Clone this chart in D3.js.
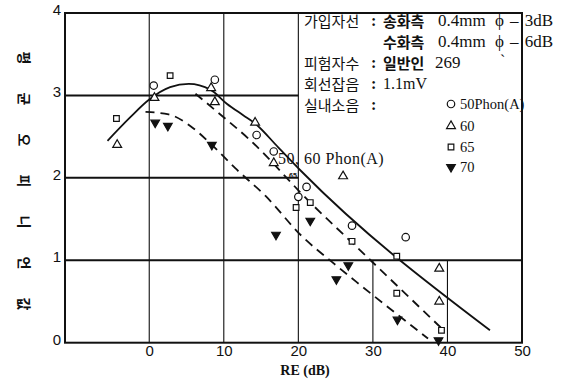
<!DOCTYPE html>
<html>
<head>
<meta charset="utf-8">
<script src="https://cdn.jsdelivr.net/npm/d3@7"></script>
<style>
  body { margin: 0; background: #fff; }
  text { fill: #111; }
</style>
</head>
<body>
<svg id="chart" width="585" height="385"></svg>
<script>
// values
const xTicks = [0, 10, 20, 30, 40, 50];
const yTicks = [0, 1, 2, 3, 4];
const yTitle = '평균오피니언값';
const xTitle = 'RE (dB)';

// measured points, [RE, opinion score]
const phon50 = [[0.6, 3.12], [8.8, 3.19], [14.4, 2.52], [16.7, 2.32], [20.0, 1.77], [21.1, 1.89], [27.2, 1.42], [34.4, 1.28]];
const phon60 = [[-4.3, 2.40], [0.7, 2.97], [8.3, 3.09], [8.8, 2.92], [14.2, 2.67], [16.7, 2.18], [26.0, 2.02], [38.9, 0.90], [38.9, 0.50]];
const phon65 = [[-4.4, 2.72], [2.8, 3.24], [19.7, 1.64], [21.6, 1.70], [27.2, 1.23], [33.2, 1.05], [33.2, 0.60], [39.2, 0.15]];
const phon70 = [[0.8, 2.67], [2.5, 2.63], [8.4, 2.40], [17.0, 1.31], [21.6, 1.48], [25.1, 0.77], [26.7, 0.94], [33.3, 0.28], [38.8, 0.03]];

// fitted curves drawn on the figure
const fit5060 = [[-5.6, 2.45], [-2.5, 2.74], [0, 2.95], [2.8, 3.10], [5.3, 3.14], [8.2, 3.07], [10.4, 2.90], [12.6, 2.76], [14.2, 2.66], [17.3, 2.37], [20.4, 2.08], [45.7, 0.15]];
const fit65 = [[6.2, 3.02], [9.0, 2.81], [13.5, 2.46], [21.6, 1.70], [28.3, 1.12], [39.5, 0.15]];
const fit70 = [[-0.5, 2.80], [2.6, 2.77], [5.5, 2.63], [8.4, 2.40], [11.5, 2.12], [15.6, 1.78], [20.5, 1.29], [24.5, 0.98], [28.3, 0.70], [37.4, 0.05]];

// condition box text
const legendLabels = ['가입자선', '', '피험자수', '회선잡음', '실내소음'];
const legendSides = ['송화측', '수화측', '일반인', '1.1mV', ''];
const legendValues = ['0.4mm', '0.4mm', '269', '', ''];
const legendLoss = ['– 3dB', '– 6dB', '', '', ''];
const noiseNames = ['50Phon(A)', '60', '65', '70'];

const svg = d3.select('#chart');
const ink = '#111';

const x = d3.scaleLinear().domain([-11.3, 50]).range([65, 522]);
const y = d3.scaleLinear().domain([0, 4]).range([342.7, 13]);

// grid lines: full height at 0,10,20 ; 30,40 only below y=1 (box sits above)
const grid = svg.append('g').attr('stroke', ink);
grid.selectAll('line.vg')
  .data(xTicks.filter(d => d < 50))
  .join('line')
  .attr('x1', d => x(d)).attr('x2', d => x(d))
  .attr('y1', d => d <= 20 ? y(4) : y(1))
  .attr('y2', y(0))
  .attr('stroke-width', 1.1);

grid.selectAll('line.hg')
  .data(yTicks.filter(d => d > 0 && d < 4))
  .join('line')
  .attr('x1', x.range()[0])
  .attr('x2', d => d === 1 ? x(50) : x(20))
  .attr('y1', d => y(d)).attr('y2', d => y(d))
  .attr('stroke-width', 2);

// frame
svg.append('rect')
  .attr('x', x.range()[0]).attr('y', y(4))
  .attr('width', x(50) - x.range()[0]).attr('height', y(0) - y(4))
  .attr('fill', 'none').attr('stroke', ink).attr('stroke-width', 2);

// axes (labels only)
const xAxis = svg.append('g')
  .attr('transform', `translate(0,${y(0)})`)
  .call(d3.axisBottom(x).tickValues(xTicks).tickFormat(d3.format('d')).tickSize(0).tickPadding(3));
const yAxis = svg.append('g')
  .attr('transform', `translate(${x.range()[0]},0)`)
  .call(d3.axisLeft(y).tickValues(yTicks).tickFormat(d3.format('d')).tickSize(0).tickPadding(4));
[xAxis, yAxis].forEach(a => {
  a.select('.domain').remove();
  a.selectAll('text')
    .style('font-family', '"Liberation Sans", Arial, sans-serif')
    .style('font-size', '15px')
    .attr('fill', ink);
});
yAxis.selectAll('text').attr('dy', '0.1em');

// axis titles
svg.append('text')
  .attr('x', 305).attr('y', 375)
  .attr('text-anchor', 'middle')
  .style('font-family', '"Liberation Serif", serif')
  .style('font-size', '14px')
  .style('font-weight', 'bold')
  .text(xTitle);

svg.append('g')
  .selectAll('text')
  .data(Array.from(yTitle))
  .join('text')
  .attr('transform', (d, i) => `translate(24,${58 + i * 41}) rotate(90)`)
  .attr('text-anchor', 'middle')
  .attr('dy', '0.35em')
  .style('font-family', '"Noto Sans CJK KR", sans-serif')
  .style('font-size', '14px')
  .style('font-weight', 'bold')
  .text(d => d);

// fitted curves
const line = d3.line().x(d => x(d[0])).y(d => y(d[1])).curve(d3.curveMonotoneX);
svg.append('path').attr('d', line(fit5060))
  .attr('fill', 'none').attr('stroke', ink).attr('stroke-width', 1.8);
svg.append('path').attr('d', line(fit65))
  .attr('fill', 'none').attr('stroke', ink).attr('stroke-width', 1.8)
  .attr('stroke-dasharray', '9,6');
svg.append('path').attr('d', line(fit70))
  .attr('fill', 'none').attr('stroke', ink).attr('stroke-width', 1.8)
  .attr('stroke-dasharray', '9,6');

// markers
const shapes = [
  { data: phon50, type: d3.symbolCircle, size: 44, fill: '#fff', rot: 0 },
  { data: phon60, type: d3.symbolTriangle, size: 34, fill: '#fff', rot: 0 },
  { data: phon65, type: d3.symbolSquare, size: 32, fill: '#fff', rot: 0 },
  { data: phon70, type: d3.symbolTriangle, size: 32, fill: ink, rot: 180 }
];
shapes.forEach(s => {
  svg.append('g').selectAll('path')
    .data(s.data)
    .join('path')
    .attr('d', d3.symbol(s.type, s.size))
    .attr('transform', d => `translate(${x(d[0])},${y(d[1])}) rotate(${s.rot})`)
    .attr('fill', s.fill)
    .attr('stroke', ink)
    .attr('stroke-width', 1.2);
});

// curve labels
svg.append('text')
  .attr('x', 278).attr('y', 164)
  .style('font-family', '"Liberation Serif", serif')
  .style('font-size', '16px')
  .style('letter-spacing', '0.5px')
  .text('50, 60 Phon(A)');
svg.append('text')
  .attr('x', 289).attr('y', 178)
  .style('font-family', '"Liberation Sans", sans-serif')
  .style('font-size', '7px')
  .style('font-weight', 'bold')
  .text('65');

// condition box text
const rowY = [20, 41, 62, 83, 104, 126, 147, 167];
const box = svg.append('g')
  .style('font-size', '16px')
  .attr('dominant-baseline', 'central');
const kr = '"Noto Sans CJK KR", sans-serif';
const serif = '"Liberation Serif", "Noto Sans CJK KR", serif';

box.selectAll('text.lab')
  .data(legendLabels)
  .join('text')
  .attr('x', 304).attr('y', (d, i) => rowY[i])
  .style('font-family', kr)
  .style('font-size', '15px')
  .text(d => d);
box.selectAll('text.colon')
  .data(legendLabels.map(d => d ? ':' : ''))
  .join('text')
  .attr('x', 371).attr('y', (d, i) => rowY[i])
  .style('font-family', serif)
  .style('font-weight', 'bold')
  .text(d => d);
box.selectAll('text.side')
  .data(legendSides)
  .join('text')
  .attr('x', 383).attr('y', (d, i) => rowY[i])
  .style('font-family', (d, i) => i < 3 ? kr : serif)
  .style('font-size', (d, i) => i < 3 ? '15px' : '16px')
  .style('font-weight', (d, i) => i < 3 ? 'bold' : 'normal')
  .text(d => d);
box.selectAll('text.val')
  .data(legendValues)
  .join('text')
  .attr('x', (d, i) => i < 2 ? 438 : 435)
  .attr('y', (d, i) => rowY[i])
  .style('font-family', serif)
  .style('font-size', '17px')
  .text(d => d);
box.selectAll('text.phi')
  .data(legendLoss)
  .join('text')
  .attr('x', 495).attr('y', (d, i) => rowY[i])
  .style('font-family', serif)
  .style('font-size', '17px')
  .text(d => d ? 'ϕ' : '');
box.selectAll('text.loss')
  .data(legendLoss)
  .join('text')
  .attr('x', 510).attr('y', (d, i) => rowY[i])
  .style('font-family', serif)
  .style('font-size', '17px')
  .style('word-spacing', '2px')
  .text(d => d);
box.append('text').attr('x', 500).attr('y', 60)
  .style('font-family', serif).text('`');

// noise legend
const legendShapes = shapes.map((s, i) => ({ ...s, name: noiseNames[i], row: rowY[4 + i] }));
const items = box.selectAll('g.item')
  .data(legendShapes)
  .join('g')
  .attr('transform', d => `translate(451,${d.row})`);
items.append('path')
  .attr('d', d => d3.symbol(d.type, d.size)())
  .attr('transform', d => `rotate(${d.rot})`)
  .attr('fill', d => d.fill)
  .attr('stroke', ink)
  .attr('stroke-width', 1.2);
items.append('text')
  .attr('x', 9)
  .style('font-family', serif)
  .style('font-size', '14.5px')
  .text(d => d.name);
</script>
</body>
</html>
